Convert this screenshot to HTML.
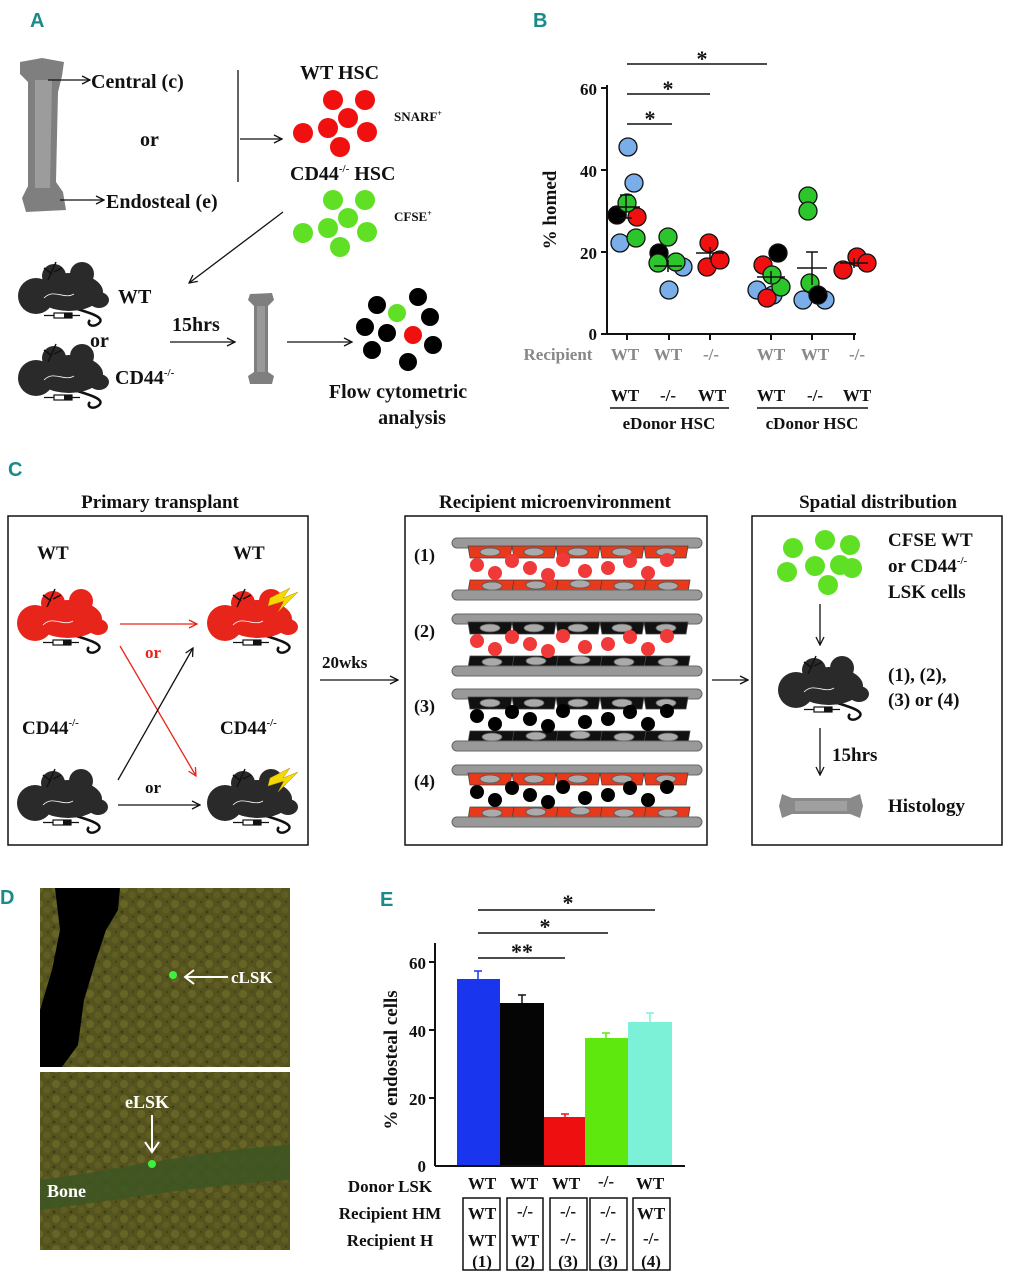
<!DOCTYPE html>
<html><head><meta charset="utf-8"><style>
html,body{margin:0;padding:0;background:#fff;}
svg{display:block;}
text{font-family:"Liberation Serif",serif;font-weight:bold;fill:#111;}
.lab{font-family:"Liberation Sans",sans-serif;fill:#1a8a8a;font-size:20px;}
</style></head><body>
<svg width="1015" height="1280" viewBox="0 0 1015 1280" xmlns="http://www.w3.org/2000/svg">
<defs>
<marker id="ah" markerWidth="10" markerHeight="10" refX="9" refY="5" orient="auto" markerUnits="userSpaceOnUse"><path d="M1,1 L9,5 L1,9" fill="none" stroke="#111" stroke-width="1.3"/></marker>
<marker id="ahr" markerWidth="10" markerHeight="10" refX="9" refY="5" orient="auto" markerUnits="userSpaceOnUse"><path d="M1,1 L9,5 L1,9" fill="none" stroke="#e8251a" stroke-width="1.3"/></marker>
<g id="mouse">
 <path d="M60,50 C80,56 92,60 84,66 C78,70 72,66 76,62" fill="none" stroke="#111" stroke-width="2.5"/>
 <ellipse cx="55" cy="34" rx="34" ry="19"/>
 <ellipse cx="85" cy="42" rx="10" ry="8"/>
 <circle cx="22" cy="38" r="18"/>
 <circle cx="40" cy="18" r="12"/>
 <circle cx="68" cy="16" r="12"/>
 <path d="M34,22 L42,4 M40,14 L48,10 M38,16 L30,10" stroke="#111" stroke-width="1.5"/>
 <path d="M30,40 C40,30 50,42 60,36" fill="none" stroke="#fff" stroke-width="0.8"/>
 <rect x="40" y="55" width="18" height="5" fill="#fff" stroke="#111" stroke-width="1.2"/>
 <rect x="50" y="55" width="8" height="5" fill="#111"/>
 <path d="M30,57.5 L40,57.5 M58,57.5 L66,57.5" stroke="#111" stroke-width="1.2"/>
</g>
<g id="vessel">
 <rect x="452" y="0" width="250" height="10" rx="5" fill="#999" stroke="#666" stroke-width="1"/>
 <path d="M468,8 h44 l-2,12 h-40z M512,8 h44 l-2,12 h-40z M556,8 h44 l-2,12 h-40z M600,8 h44 l-2,12 h-40z M644,8 h44 l-2,12 h-40z" stroke="#444" stroke-width="0.8"/>
 <path d="M470,42 h44 l-2,12 h-44z M514,42 h44 l-2,12 h-44z M558,42 h44 l-2,12 h-44z M602,42 h44 l-2,12 h-44z M646,42 h44 l-2,12 h-44z" stroke="#444" stroke-width="0.8"/>
 <g fill="#aaa" stroke="#555" stroke-width="0.8">
 <ellipse cx="490" cy="14" rx="10" ry="4"/><ellipse cx="534" cy="14" rx="10" ry="4"/><ellipse cx="578" cy="14" rx="10" ry="4"/><ellipse cx="622" cy="14" rx="10" ry="4"/><ellipse cx="666" cy="14" rx="10" ry="4"/>
 <ellipse cx="492" cy="48" rx="10" ry="4"/><ellipse cx="536" cy="47" rx="10" ry="4"/><ellipse cx="580" cy="46" rx="10" ry="4"/><ellipse cx="624" cy="48" rx="10" ry="4"/><ellipse cx="668" cy="48" rx="10" ry="4"/>
 </g>
 <rect x="452" y="52" width="250" height="10" rx="5" fill="#999" stroke="#666" stroke-width="1"/>
</g>
<g id="dots">
 <circle cx="477" cy="27" r="7"/><circle cx="495" cy="35" r="7"/><circle cx="512" cy="23" r="7"/><circle cx="530" cy="30" r="7"/><circle cx="548" cy="37" r="7"/><circle cx="563" cy="22" r="7"/><circle cx="585" cy="33" r="7"/><circle cx="608" cy="30" r="7"/><circle cx="630" cy="23" r="7"/><circle cx="648" cy="35" r="7"/><circle cx="667" cy="22" r="7"/>
</g>
<pattern id="tex" width="17" height="15" patternUnits="userSpaceOnUse">
<rect width="17" height="15" fill="#55541e"/>
<circle cx="5" cy="4" r="4" fill="#676526"/><circle cx="13" cy="10" r="3.5" fill="#5f5d22"/><circle cx="3" cy="12" r="1.5" fill="#3f3f14"/><circle cx="14" cy="2" r="1.2" fill="#444416"/>
</pattern>
</defs>

<!-- ===== A ===== -->
<text x="30" y="27" class="lab">A</text>
<path d="M20,62 L42,58 L64,62 L62,76 L58,92 L56,182 L63,192 L66,210 L26,212 L22,198 L28,186 L28,82 L20,74 Z" fill="#7f7f7f"/>
<path d="M35,80 L52,80 L50,188 L35,188 Z" fill="#9c9c9c"/>
<line x1="48" y1="80" x2="90" y2="80" stroke="#111" stroke-width="1.3" marker-end="url(#ah)"/>
<text x="91" y="88" font-size="20">Central (c)</text>
<text x="140" y="146" font-size="20">or</text>
<line x1="60" y1="200" x2="104" y2="200" stroke="#111" stroke-width="1.3" marker-end="url(#ah)"/>
<text x="106" y="208" font-size="20">Endosteal (e)</text>
<line x1="238" y1="70" x2="238" y2="182" stroke="#111" stroke-width="1.3"/>
<line x1="240" y1="139" x2="282" y2="139" stroke="#111" stroke-width="1.3" marker-end="url(#ah)"/>
<text x="300" y="79" font-size="20">WT HSC</text>
<g fill="#f01010">
<circle cx="333" cy="100" r="10"/><circle cx="365" cy="100" r="10"/><circle cx="348" cy="118" r="10"/><circle cx="303" cy="133" r="10"/><circle cx="328" cy="128" r="10"/><circle cx="367" cy="132" r="10"/><circle cx="340" cy="147" r="10"/>
</g>
<text x="394" y="121" font-size="13">SNARF<tspan font-size="8" dy="-5">+</tspan></text>
<text x="290" y="180" font-size="20">CD44<tspan font-size="11" dy="-8">-/-</tspan><tspan dy="8"> HSC</tspan></text>
<g fill="#5fe025">
<circle cx="333" cy="200" r="10"/><circle cx="365" cy="200" r="10"/><circle cx="348" cy="218" r="10"/><circle cx="303" cy="233" r="10"/><circle cx="328" cy="228" r="10"/><circle cx="367" cy="232" r="10"/><circle cx="340" cy="247" r="10"/>
</g>
<text x="394" y="221" font-size="13">CFSE<tspan font-size="8" dy="-5">+</tspan></text>
<line x1="283" y1="212" x2="189" y2="283" stroke="#111" stroke-width="1.3" marker-end="url(#ah)"/>
<use href="#mouse" transform="translate(14,258)" fill="#2a2a2a"/>
<use href="#mouse" transform="translate(14,340)" fill="#2a2a2a"/>
<text x="118" y="303" font-size="20">WT</text>
<text x="90" y="347" font-size="20">or</text>
<text x="115" y="384" font-size="20">CD44<tspan font-size="11" dy="-8">-/-</tspan></text>
<text x="172" y="331" font-size="20">15hrs</text>
<line x1="170" y1="342" x2="235" y2="342" stroke="#111" stroke-width="1.3" marker-end="url(#ah)"/>
<path d="M250,294 L272,293 L274,300 L268,306 L268,372 L274,376 L272,384 L250,384 L248,376 L254,372 L254,306 L248,300 Z" fill="#7f7f7f"/>
<path d="M257,306 L265,306 L265,372 L257,372Z" fill="#999"/>
<line x1="287" y1="342" x2="352" y2="342" stroke="#111" stroke-width="1.3" marker-end="url(#ah)"/>
<g fill="#000">
<circle cx="377" cy="305" r="9"/><circle cx="418" cy="297" r="9"/><circle cx="430" cy="317" r="9"/><circle cx="365" cy="327" r="9"/><circle cx="387" cy="333" r="9"/><circle cx="433" cy="345" r="9"/><circle cx="372" cy="350" r="9"/><circle cx="408" cy="362" r="9"/>
</g>
<circle cx="397" cy="313" r="9" fill="#5fe025"/><circle cx="413" cy="335" r="9" fill="#f01010"/>
<text x="398" y="398" font-size="20" text-anchor="middle">Flow cytometric</text>
<text x="412" y="424" font-size="20" text-anchor="middle">analysis</text>

<!-- ===== B ===== -->
<text x="533" y="27" class="lab">B</text>
<line x1="607" y1="85" x2="607" y2="334" stroke="#111" stroke-width="2"/>
<line x1="607" y1="334" x2="856" y2="334" stroke="#111" stroke-width="2"/>
<g stroke="#111" stroke-width="2">
<line x1="601" y1="88" x2="607" y2="88"/><line x1="601" y1="170" x2="607" y2="170"/><line x1="601" y1="252" x2="607" y2="252"/><line x1="601" y1="334" x2="607" y2="334"/>
<line x1="627" y1="334" x2="627" y2="340"/><line x1="669" y1="334" x2="669" y2="340"/><line x1="710" y1="334" x2="710" y2="340"/><line x1="771" y1="334" x2="771" y2="340"/><line x1="812" y1="334" x2="812" y2="340"/><line x1="854" y1="334" x2="854" y2="340"/>
</g>
<g font-size="17" text-anchor="end"><text x="597" y="95">60</text><text x="597" y="177">40</text><text x="597" y="259">20</text><text x="597" y="340">0</text></g>
<text transform="translate(556,210) rotate(-90)" font-size="19" text-anchor="middle">% homed</text>
<g stroke="#111" stroke-width="1.5">
<line x1="627" y1="64" x2="767" y2="64"/><line x1="627" y1="94" x2="710" y2="94"/><line x1="627" y1="124" x2="672" y2="124"/>
</g>
<g font-size="22" text-anchor="middle"><text x="702" y="66">*</text><text x="668" y="96">*</text><text x="650" y="126">*</text></g>
<g stroke="#111" stroke-width="1.3">
<circle cx="628" cy="147" r="9" fill="#7aaee8"/><circle cx="634" cy="183" r="9" fill="#7aaee8"/><circle cx="620" cy="243" r="9" fill="#7aaee8"/><circle cx="636" cy="238" r="9" fill="#2cc62c"/><circle cx="617" cy="215" r="9" fill="#000"/><circle cx="637" cy="217" r="9" fill="#f01010"/><circle cx="627" cy="203" r="9" fill="#2cc62c"/>
<circle cx="669" cy="290" r="9" fill="#7aaee8"/><circle cx="683" cy="267" r="9" fill="#7aaee8"/><circle cx="668" cy="237" r="9" fill="#2cc62c"/><circle cx="659" cy="253" r="9" fill="#000"/><circle cx="658" cy="263" r="9" fill="#2cc62c"/><circle cx="676" cy="262" r="9" fill="#2cc62c"/>
<circle cx="709" cy="243" r="9" fill="#f01010"/><circle cx="707" cy="267" r="9" fill="#f01010"/><circle cx="720" cy="260" r="9" fill="#f01010"/>
<circle cx="757" cy="290" r="9" fill="#7aaee8"/><circle cx="773" cy="295" r="9" fill="#7aaee8"/><circle cx="767" cy="298" r="9" fill="#f01010"/><circle cx="763" cy="265" r="9" fill="#f01010"/><circle cx="778" cy="253" r="9" fill="#000"/><circle cx="781" cy="287" r="9" fill="#2cc62c"/><circle cx="772" cy="275" r="9" fill="#2cc62c"/>
<circle cx="808" cy="196" r="9" fill="#2cc62c"/><circle cx="808" cy="211" r="9" fill="#2cc62c"/><circle cx="803" cy="300" r="9" fill="#7aaee8"/><circle cx="825" cy="300" r="9" fill="#7aaee8"/><circle cx="810" cy="283" r="9" fill="#2cc62c"/><circle cx="818" cy="295" r="9" fill="#000"/>
<circle cx="843" cy="270" r="9" fill="#f01010"/><circle cx="857" cy="257" r="9" fill="#f01010"/><circle cx="867" cy="263" r="9" fill="#f01010"/>
</g>
<g stroke="#111" stroke-width="1.5" fill="none">
<path d="M612,207 h28 M626,195 v23 M620,195 h12 M620,218 h12"/>
<path d="M654,266 h28 M668,260 v12"/>
<path d="M696,253 h28 M710,247 v12"/>
<path d="M757,277 h28 M771,271 v12"/>
<path d="M797,268 h30 M812,252 v33 M806,252 h12"/>
<path d="M840,263 h28 M854,258 v10"/>
</g>
<g font-size="17" text-anchor="middle">
<text x="558" y="360" style="fill:#888">Recipient</text><text x="625" y="360" style="fill:#888">WT</text><text x="668" y="360" style="fill:#888">WT</text><text x="711" y="360" style="fill:#888">-/-</text><text x="771" y="360" style="fill:#888">WT</text><text x="815" y="360" style="fill:#888">WT</text><text x="857" y="360" style="fill:#888">-/-</text>
</g>
<g font-size="17" text-anchor="middle">
<text x="625" y="401">WT</text><text x="668" y="401">-/-</text><text x="712" y="401">WT</text><text x="771" y="401">WT</text><text x="815" y="401">-/-</text><text x="857" y="401">WT</text>
<text x="669" y="429">eDonor HSC</text><text x="812" y="429">cDonor HSC</text>
</g>
<line x1="610" y1="408" x2="729" y2="408" stroke="#111" stroke-width="1.5"/>
<line x1="757" y1="408" x2="868" y2="408" stroke="#111" stroke-width="1.5"/>

<!-- ===== C ===== -->
<text x="8" y="476" class="lab">C</text>
<g font-size="19" text-anchor="middle"><text x="160" y="508">Primary transplant</text><text x="555" y="508">Recipient microenvironment</text><text x="878" y="508">Spatial distribution</text></g>
<g fill="none" stroke="#111" stroke-width="1.5">
<rect x="8" y="516" width="300" height="329"/><rect x="405" y="516" width="302" height="329"/><rect x="752" y="516" width="250" height="329"/>
</g>
<text x="37" y="559" font-size="19">WT</text><text x="233" y="559" font-size="19">WT</text>
<text x="22" y="734" font-size="19">CD44<tspan font-size="11" dy="-8">-/-</tspan></text>
<text x="220" y="734" font-size="19">CD44<tspan font-size="11" dy="-8">-/-</tspan></text>
<use href="#mouse" transform="translate(13,585)" fill="#e8251a"/>
<use href="#mouse" transform="translate(203,585)" fill="#e8251a"/>
<use href="#mouse" transform="translate(13,765)" fill="#2a2a2a"/>
<use href="#mouse" transform="translate(203,765)" fill="#2a2a2a"/>
<path d="M270,598 L290,588 L283,598 L298,592 L278,612 L284,601 L268,606Z" fill="#f5d800" stroke="#b09000" stroke-width="0.5"/>
<path d="M270,778 L290,768 L283,778 L298,772 L278,792 L284,781 L268,786Z" fill="#f5d800" stroke="#b09000" stroke-width="0.5"/>
<line x1="120" y1="624" x2="197" y2="624" stroke="#e8251a" stroke-width="1.3" marker-end="url(#ahr)"/>
<text x="145" y="658" font-size="17" style="fill:#e8251a">or</text>
<line x1="120" y1="646" x2="196" y2="776" stroke="#e8251a" stroke-width="1.3" marker-end="url(#ahr)"/>
<line x1="118" y1="780" x2="193" y2="648" stroke="#111" stroke-width="1.3" marker-end="url(#ah)"/>
<text x="145" y="793" font-size="17">or</text>
<line x1="118" y1="805" x2="200" y2="805" stroke="#111" stroke-width="1.3" marker-end="url(#ah)"/>
<text x="322" y="668" font-size="17">20wks</text>
<line x1="320" y1="680" x2="398" y2="680" stroke="#111" stroke-width="1.3" marker-end="url(#ah)"/>
<g font-size="18"><text x="414" y="561">(1)</text><text x="414" y="637">(2)</text><text x="414" y="712">(3)</text><text x="414" y="787">(4)</text></g>
<g fill="#e8391a"><use href="#vessel" transform="translate(0,538)"/></g>
<use href="#dots" transform="translate(0,538)" fill="#f03a3a"/>
<g fill="#111"><use href="#vessel" transform="translate(0,614)"/></g>
<use href="#dots" transform="translate(0,614)" fill="#f03a3a"/>
<g fill="#111"><use href="#vessel" transform="translate(0,689)"/></g>
<use href="#dots" transform="translate(0,689)" fill="#000"/>
<g fill="#e8391a"><use href="#vessel" transform="translate(0,765)"/></g>
<use href="#dots" transform="translate(0,765)" fill="#000"/>
<line x1="712" y1="680" x2="748" y2="680" stroke="#111" stroke-width="1.3" marker-end="url(#ah)"/>
<g fill="#5fe025">
<circle cx="793" cy="548" r="10"/><circle cx="825" cy="540" r="10"/><circle cx="850" cy="545" r="10"/><circle cx="787" cy="572" r="10"/><circle cx="815" cy="566" r="10"/><circle cx="840" cy="565" r="10"/><circle cx="852" cy="568" r="10"/><circle cx="828" cy="585" r="10"/>
</g>
<g font-size="19"><text x="888" y="546">CFSE WT</text><text x="888" y="572">or CD44<tspan font-size="11" dy="-8">-/-</tspan></text><text x="888" y="598">LSK cells</text>
<text x="888" y="681">(1), (2),</text><text x="888" y="706">(3) or (4)</text><text x="888" y="812">Histology</text></g>
<line x1="820" y1="604" x2="820" y2="645" stroke="#111" stroke-width="1.3" marker-end="url(#ah)"/>
<use href="#mouse" transform="translate(774,652)" fill="#2a2a2a"/>
<line x1="820" y1="728" x2="820" y2="775" stroke="#111" stroke-width="1.3" marker-end="url(#ah)"/>
<text x="832" y="761" font-size="19">15hrs</text>
<path d="M782,794 L792,798 L850,798 L860,794 L863,806 L860,818 L850,814 L792,814 L782,818 L779,806Z" fill="#8a8a8a"/>
<rect x="795" y="801" width="52" height="10" fill="#a0a0a0"/>

<!-- ===== D ===== -->
<text x="0" y="904" class="lab">D</text>
<rect x="40" y="888" width="250" height="179" fill="url(#tex)"/>
<path d="M55,888 L120,888 L118,910 L106,930 L96,960 L84,1000 L78,1045 L62,1067 L40,1067 L40,1010 L52,970 L60,930 Z" fill="#000"/>
<circle cx="173" cy="975" r="4" fill="#3cf03c"/>
<line x1="186" y1="977" x2="228" y2="977" stroke="#fff" stroke-width="2"/>
<path d="M194,970 L185,977 L194,984" fill="none" stroke="#fff" stroke-width="2"/>
<text x="231" y="983" font-size="17" style="fill:#fff">cLSK</text>
<rect x="40" y="1072" width="250" height="178" fill="url(#tex)"/>
<path d="M40,1180 C120,1170 200,1150 290,1145 L290,1180 C200,1185 120,1200 40,1210Z" fill="#3f5522" opacity="0.9"/>
<circle cx="152" cy="1164" r="4" fill="#3cf03c"/>
<line x1="152" y1="1115" x2="152" y2="1150" stroke="#fff" stroke-width="2"/>
<path d="M145,1142 L152,1152 L159,1142" fill="none" stroke="#fff" stroke-width="2"/>
<text x="125" y="1108" font-size="18" style="fill:#fff">eLSK</text>
<text x="47" y="1197" font-size="18" style="fill:#fff">Bone</text>

<!-- ===== E ===== -->
<text x="380" y="906" class="lab">E</text>
<g stroke="#111" stroke-width="1.5">
<line x1="478" y1="910" x2="655" y2="910"/><line x1="478" y1="933" x2="608" y2="933"/><line x1="478" y1="958" x2="565" y2="958"/>
</g>
<g font-size="22" text-anchor="middle"><text x="568" y="910">*</text><text x="545" y="934">*</text><text x="522" y="959">**</text></g>
<rect x="457" y="979" width="43" height="187" fill="#1a35ee"/>
<rect x="500" y="1003" width="44" height="163" fill="#050505"/>
<rect x="544" y="1117" width="41" height="49" fill="#ee1010"/>
<rect x="585" y="1038" width="43" height="128" fill="#5ee80e"/>
<rect x="628" y="1022" width="44" height="144" fill="#7df0d8"/>
<g stroke-width="1.5">
<path d="M478,979 V971 M474,971 h8" stroke="#1a35ee"/>
<path d="M522,1003 V995 M518,995 h8" stroke="#111"/>
<path d="M565,1117 V1114 M561,1114 h8" stroke="#ee1010"/>
<path d="M606,1038 V1033 M602,1033 h8" stroke="#5ee80e"/>
<path d="M650,1022 V1013 M646,1013 h8" stroke="#7df0d8"/>
</g>
<line x1="435" y1="943" x2="435" y2="1166" stroke="#111" stroke-width="2"/>
<line x1="435" y1="1166" x2="685" y2="1166" stroke="#111" stroke-width="2"/>
<g stroke="#111" stroke-width="2"><line x1="429" y1="962" x2="435" y2="962"/><line x1="429" y1="1030" x2="435" y2="1030"/><line x1="429" y1="1098" x2="435" y2="1098"/></g>
<g font-size="17" text-anchor="end"><text x="426" y="969">60</text><text x="426" y="1037">40</text><text x="426" y="1105">20</text><text x="426" y="1172">0</text></g>
<text transform="translate(397,1060) rotate(-90)" font-size="19" text-anchor="middle">% endosteal cells</text>
<g font-size="17" text-anchor="middle">
<text x="390" y="1192">Donor LSK</text><text x="390" y="1219">Recipient HM</text><text x="390" y="1246">Recipient H</text>
<text x="482" y="1189">WT</text><text x="524" y="1189">WT</text><text x="566" y="1189">WT</text><text x="606" y="1187">-/-</text><text x="650" y="1189">WT</text>
<text x="482" y="1219">WT</text><text x="525" y="1217">-/-</text><text x="568" y="1217">-/-</text><text x="608" y="1217">-/-</text><text x="651" y="1219">WT</text>
<text x="482" y="1246">WT</text><text x="525" y="1246">WT</text><text x="568" y="1244">-/-</text><text x="608" y="1244">-/-</text><text x="651" y="1244">-/-</text>
<text x="482" y="1267">(1)</text><text x="525" y="1267">(2)</text><text x="568" y="1267">(3)</text><text x="608" y="1267">(3)</text><text x="651" y="1267">(4)</text>
</g>
<g fill="none" stroke="#111" stroke-width="1.5">
<rect x="463" y="1198" width="37" height="72"/><rect x="507" y="1198" width="36" height="72"/><rect x="550" y="1198" width="37" height="72"/><rect x="590" y="1198" width="37" height="72"/><rect x="633" y="1198" width="37" height="72"/>
</g>
</svg>
</body></html>
